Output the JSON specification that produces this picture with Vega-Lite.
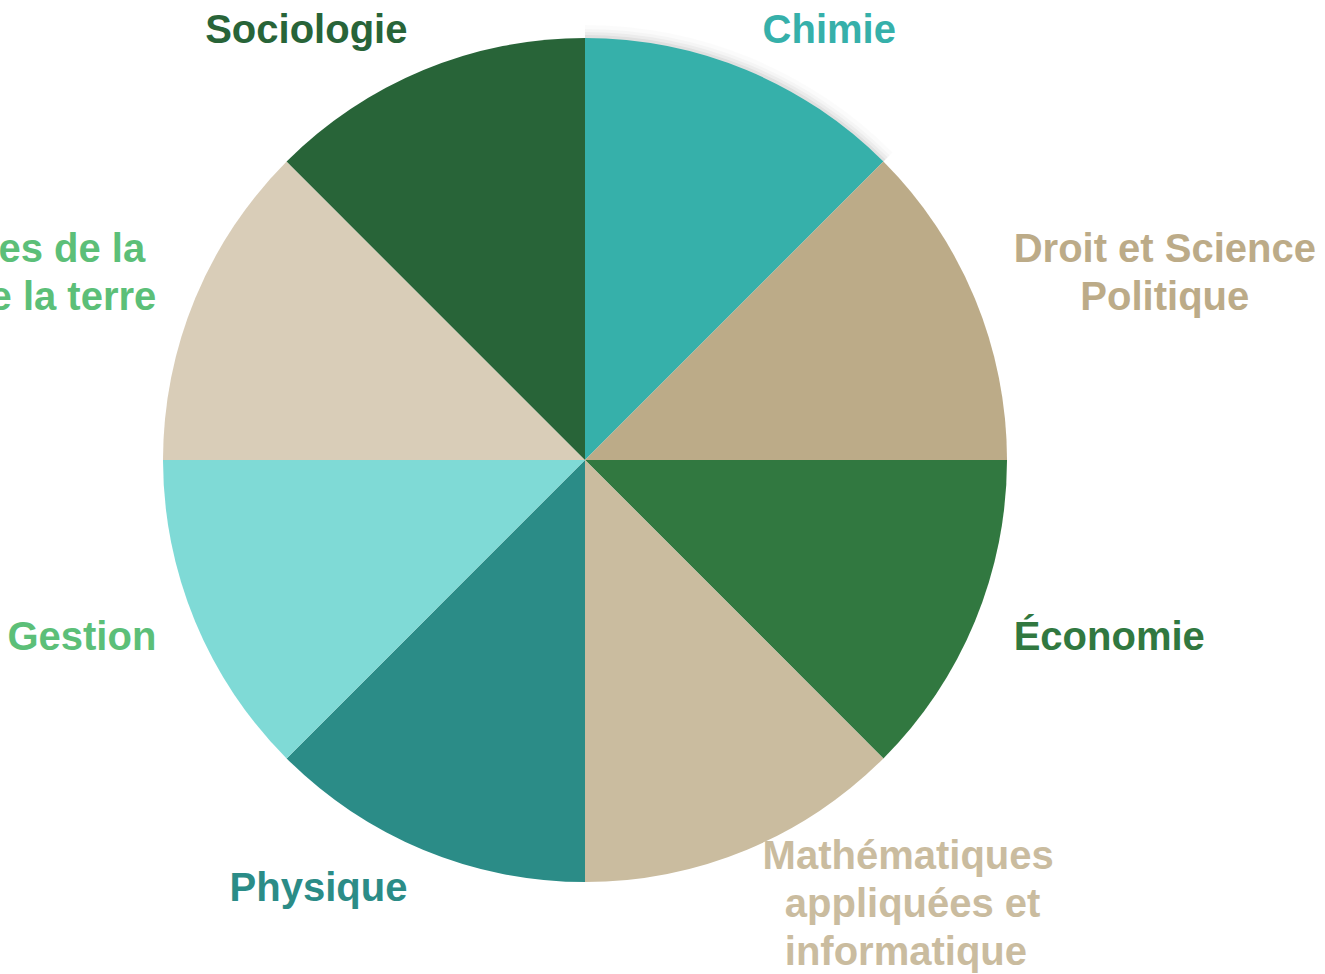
{
  "$schema": "https://vega.github.io/schema/vega-lite/v6.json",
  "width": 1170,
  "height": 920,
  "autosize": {"type": "none"},
  "padding": {"left": 0, "top": 0, "right": 155, "bottom": 54},
  "background": "white",
  "config": {"view": {"stroke": null}},
  "datasets": {
    "slices": [
      {"order": 1, "discipline": "Chimie", "label": "Chimie", "value": 1},
      {"order": 2, "discipline": "Droit et Science Politique", "label": ["Droit et Science", "\u200b\u00a0\u00a0\u00a0\u00a0\u00a0\u00a0Politique"], "value": 1},
      {"order": 3, "discipline": "Économie", "label": "Économie", "value": 1},
      {"order": 4, "discipline": "Mathématiques appliquées et informatique", "label": ["Mathématiques", "\u200b\u00a0\u00a0appliquées et", "\u200b\u00a0\u00a0informatique"], "value": 1},
      {"order": 5, "discipline": "Physique", "label": "Physique", "value": 1},
      {"order": 6, "discipline": "Gestion", "label": "Gestion", "value": 1},
      {"order": 7, "discipline": "Sciences de la vie et de la terre", "label": ["Sciences de la\u00a0\u200b", "vie et de la terre"], "value": 1},
      {"order": 8, "discipline": "Sociologie", "label": "Sociologie", "value": 1}
    ],
    "whole": [{"value": 1}]
  },
  "layer": [
    {
      "data": {"name": "whole"},
      "mark": {"type": "arc", "radius": 435, "color": "#000000", "opacity": 0.015},
      "encoding": {"theta": {"field": "value", "type": "quantitative"}}
    },
    {
      "data": {"name": "whole"},
      "mark": {"type": "arc", "radius": 431, "color": "#000000", "opacity": 0.025},
      "encoding": {"theta": {"field": "value", "type": "quantitative"}}
    },
    {
      "data": {"name": "whole"},
      "mark": {"type": "arc", "radius": 428, "color": "#000000", "opacity": 0.035},
      "encoding": {"theta": {"field": "value", "type": "quantitative"}}
    },
    {
      "data": {"name": "whole"},
      "mark": {"type": "arc", "radius": 425, "color": "#000000", "opacity": 0.05},
      "encoding": {"theta": {"field": "value", "type": "quantitative"}}
    },
    {
      "data": {"name": "slices"},
      "mark": {"type": "arc", "radius": 422, "strokeWidth": 0},
      "encoding": {
        "theta": {"field": "value", "type": "quantitative", "stack": true},
        "order": {"field": "order", "type": "quantitative"},
        "color": {
          "field": "discipline",
          "type": "nominal",
          "legend": null,
          "scale": {
            "domain": ["Chimie", "Droit et Science Politique", "Économie", "Mathématiques appliquées et informatique", "Physique", "Gestion", "Sciences de la vie et de la terre", "Sociologie"],
            "range": ["#36b0aa", "#bcab88", "#317840", "#cabc9f", "#2b8c87", "#7fdad6", "#d9cdb8", "#286438"]
          }
        }
      }
    },
    {
      "data": {"name": "slices"},
      "mark": {"type": "text", "radius": 464, "align": "left", "baseline": "middle", "font": "Liberation Sans", "fontWeight": "bold", "fontSize": 40, "lineHeight": 48,
        "dy": {"expr": "isArray(datum.label) ? -32 : 0"}},
      "encoding": {
        "theta": {"field": "value", "type": "quantitative", "stack": true},
        "order": {"field": "order", "type": "quantitative"},
        "text": {"condition": {"test": "datum.order <= 4", "field": "label"}, "value": ""},
        "color": {
          "field": "discipline",
          "type": "nominal",
          "legend": null,
          "scale": {
            "domain": ["Chimie", "Droit et Science Politique", "Économie", "Mathématiques appliquées et informatique", "Physique", "Gestion", "Sciences de la vie et de la terre", "Sociologie"],
            "range": ["#36b0aa", "#bcab88", "#317840", "#cabc9f", "#2b8c87", "#5cbf78", "#5cbf78", "#286438"]
          }
        }
      }
    },
    {
      "data": {"name": "slices"},
      "mark": {"type": "text", "radius": 464, "align": "right", "baseline": "middle", "font": "Liberation Sans", "fontWeight": "bold", "fontSize": 40, "lineHeight": 48,
        "dy": {"expr": "isArray(datum.label) ? -32 : 0"}},
      "encoding": {
        "theta": {"field": "value", "type": "quantitative", "stack": true},
        "order": {"field": "order", "type": "quantitative"},
        "text": {"condition": {"test": "datum.order > 4", "field": "label"}, "value": ""},
        "color": {
          "field": "discipline",
          "type": "nominal",
          "legend": null,
          "scale": {
            "domain": ["Chimie", "Droit et Science Politique", "Économie", "Mathématiques appliquées et informatique", "Physique", "Gestion", "Sciences de la vie et de la terre", "Sociologie"],
            "range": ["#36b0aa", "#bcab88", "#317840", "#cabc9f", "#2b8c87", "#5cbf78", "#5cbf78", "#286438"]
          }
        }
      }
    }
  ],
  "resolve": {"scale": {"color": "independent"}}
}
